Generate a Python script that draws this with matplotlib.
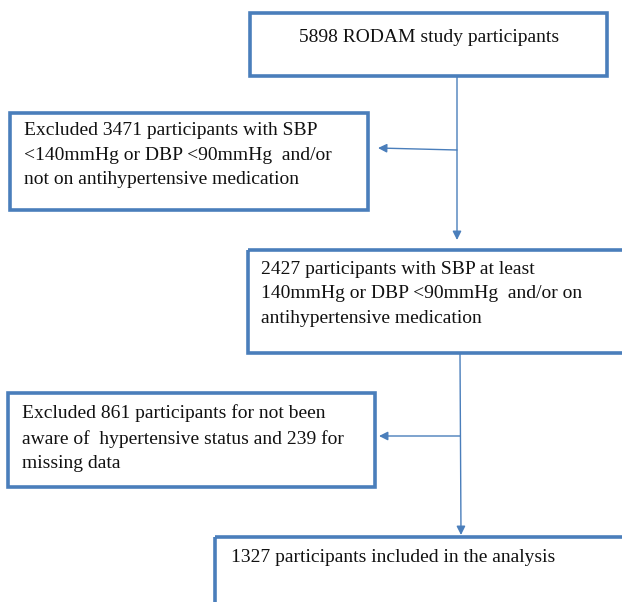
import matplotlib
matplotlib.use("Agg")
import matplotlib.pyplot as plt
from matplotlib.patches import Rectangle

# Data
total_participants = 5898
excluded_bp = 3471
eligible = 2427
excluded_unaware = 861
excluded_missing = 239
included = 1327

box_texts = [
    f"{total_participants} RODAM study participants",
    f"Excluded {excluded_bp} participants with SBP\n<140mmHg or DBP <90mmHg  and/or\nnot on antihypertensive medication",
    f"{eligible} participants with SBP at least\n140mmHg or DBP <90mmHg  and/or on\nantihypertensive medication",
    f"Excluded {excluded_unaware} participants for not been\naware of  hypertensive status and {excluded_missing} for\nmissing data",
    f"{included} participants included in the analysis",
]

W, H = 622, 602
fig = plt.figure(figsize=(W / 100, H / 100), dpi=100)
ax = fig.add_axes([0, 0, 1, 1])
ax.set_xlim(0, W)
ax.set_ylim(H, 0)
ax.axis("off")

col = "#4a7ebb"
fam = ["Liberation Serif", "DejaVu Serif"]
fs = 14
ls = 1.56

# boxes: x0, y0, x1, y1
boxes = [
    (250, 13, 607, 76),
    (10, 113, 368, 210),
    (248, 250, 624, 353),
    (8, 393, 375, 487),
    (215, 537, 624, 606),
]
for (x0, y0, x1, y1) in boxes:
    ax.add_patch(Rectangle((x0, y0), x1 - x0, y1 - y0, fill=False,
                           edgecolor=col, linewidth=2.6, clip_on=True))

# texts
ax.text(429, 37, box_texts[0], ha="center", va="center", fontsize=fs,
        family=fam, color="#111111")
ax.text(24, 155, box_texts[1], ha="left", va="center", fontsize=fs,
        family=fam, color="#111111", linespacing=ls)
ax.text(261, 294, box_texts[2], ha="left", va="center", fontsize=fs,
        family=fam, color="#111111", linespacing=ls)
ax.text(22, 438, box_texts[3], ha="left", va="center", fontsize=fs,
        family=fam, color="#111111", linespacing=ls)
ax.text(231, 558, box_texts[4], ha="left", va="center", fontsize=fs,
        family=fam, color="#111111")

ap = dict(arrowstyle="-|>", color=col, lw=1.0, mutation_scale=13,
          shrinkA=0, shrinkB=0)
# vertical connectors
ax.annotate("", xy=(457, 240), xytext=(457, 77), arrowprops=ap)
ax.annotate("", xy=(461, 535), xytext=(460, 354), arrowprops=ap)
# side arrows
ax.annotate("", xy=(378, 148), xytext=(457, 150), arrowprops=ap)
ax.annotate("", xy=(379, 436), xytext=(460, 436), arrowprops=ap)

fig.savefig("out.png", dpi=100, facecolor="white")
